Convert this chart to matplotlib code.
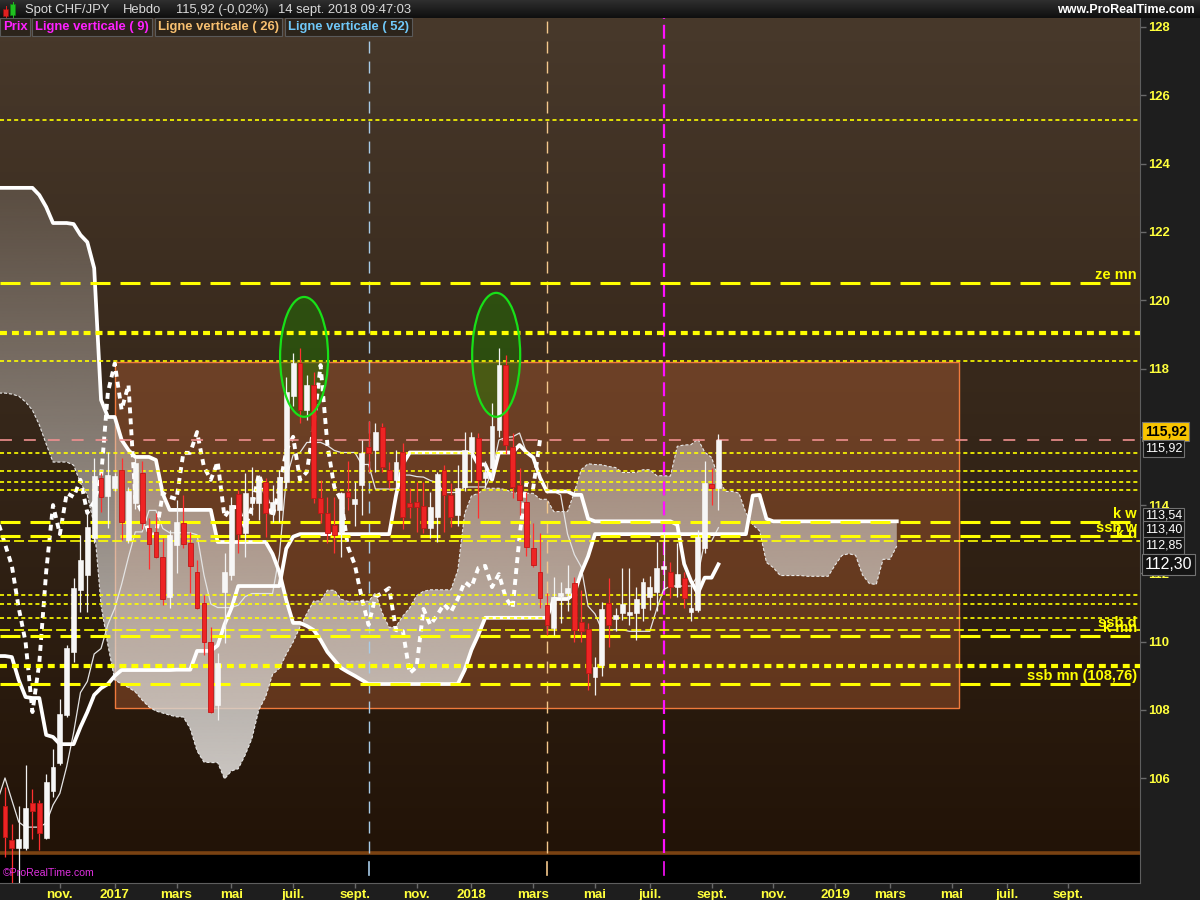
import numpy as np
import pandas as pd
import matplotlib
matplotlib.use("Agg")
import matplotlib.pyplot as plt
from matplotlib.patches import Rectangle, Ellipse, Polygon
import matplotlib.transforms as mtrans
from matplotlib.colors import to_rgb

plt.rcParams['lines.scale_dashes'] = False
plt.rcParams['font.family'] = ['Liberation Sans', 'DejaVu Sans']

# ------------------------------------------------------------------ data
first_week = "2016-09-12"   # Monday of the first weekly candle

opens = [105.19, 104.19, 103.96, 103.96, 105.28, 105.28, 104.25, 105.63, 106.45, 107.85,
         109.70, 111.51, 111.95, 113.04, 114.79, 114.27, 114.50, 115.03, 112.98, 114.06,
         114.94, 113.33, 113.21, 112.48, 111.31, 112.83, 113.48, 112.89, 112.04, 111.13,
         109.99, 108.15, 111.45, 111.95, 114.33, 113.18, 114.06, 114.06, 114.68, 113.86,
         113.86, 114.68, 117.20, 118.16, 116.79, 117.52, 114.21, 113.77, 113.42, 113.21,
         114.38, 114.03, 114.59, 115.71, 115.60, 116.29, 115.03, 114.74, 115.56, 114.06,
         114.09, 113.97, 113.33, 113.65, 115.03, 114.30, 113.71, 114.53, 115.56, 115.97,
         114.79, 115.09, 116.20, 118.10, 115.70, 114.59, 114.09, 112.74, 112.04, 111.07,
         110.40, 111.34, 111.43, 111.72, 110.58, 110.37, 108.97, 109.32, 111.13, 110.66,
         110.84, 110.78, 110.84, 110.99, 111.31, 111.45, 112.13, 112.04, 111.60, 111.87,
         110.87, 110.93, 112.74, 114.62, 114.50]
highs = [105.75, 104.66, 105.19, 106.39, 105.69, 105.37, 106.13, 106.86, 108.32, 109.90,
         111.87, 113.12, 113.77, 115.38, 114.94, 115.56, 114.95, 115.38, 114.53, 115.38,
         115.30, 113.62, 113.77, 113.04, 113.27, 114.15, 114.30, 113.21, 112.39, 111.37,
         110.43, 109.67, 112.60, 114.24, 114.44, 114.94, 115.12, 114.88, 114.79, 114.60,
         115.03, 117.75, 118.45, 118.60, 117.81, 117.90, 114.74, 114.24, 114.24, 114.38,
         115.30, 114.68, 115.91, 116.46, 116.40, 116.40, 115.27, 115.60, 115.82, 114.50,
         114.68, 114.68, 114.38, 114.97, 115.18, 114.65, 115.18, 116.14, 116.14, 116.11,
         115.30, 117.00, 118.60, 118.40, 116.11, 115.10, 114.38, 113.48, 113.18, 111.43,
         111.90, 111.75, 112.25, 111.90, 111.52, 110.55, 109.55, 111.16, 111.87, 111.00,
         112.16, 112.16, 111.60, 111.87, 111.93, 112.92, 113.21, 112.33, 112.89, 112.04,
         111.66, 113.27, 115.30, 115.09, 116.08]
lows = [103.70, 102.80, 102.80, 103.90, 104.22, 103.90, 104.22, 105.45, 106.40, 107.80,
        109.40, 110.87, 110.87, 112.90, 113.80, 113.33, 114.40, 112.98, 112.90, 113.90,
        113.30, 112.13, 112.45, 111.07, 111.00, 112.00, 112.74, 111.43, 110.96, 109.61,
        107.91, 107.70, 109.96, 111.80, 112.60, 112.48, 113.70, 113.56, 113.07, 113.50,
        113.50, 114.50, 116.90, 116.40, 116.50, 114.06, 113.48, 112.89, 112.60, 112.48,
        113.86, 113.40, 113.70, 114.97, 114.97, 114.97, 114.50, 114.50, 113.30, 113.62,
        113.21, 113.18, 113.04, 112.92, 113.21, 113.36, 113.40, 114.40, 114.68, 113.62,
        114.50, 114.80, 116.00, 115.50, 114.20, 113.70, 112.50, 112.19, 111.00, 110.20,
        110.20, 110.55, 110.90, 110.00, 110.00, 108.60, 108.45, 109.00, 109.84, 110.30,
        110.63, 110.50, 110.05, 110.60, 110.93, 110.90, 111.50, 111.28, 111.30, 110.99,
        110.60, 110.87, 112.60, 114.00, 113.86]
closes = [104.28, 103.96, 104.22, 105.13, 105.04, 104.40, 105.89, 106.33, 107.88, 109.82,
          111.57, 112.39, 113.36, 114.85, 114.24, 114.88, 114.85, 113.50, 114.40, 115.23,
          113.48, 112.86, 112.48, 111.25, 113.12, 113.50, 112.86, 112.22, 110.99, 109.99,
          107.94, 109.38, 112.04, 114.00, 113.15, 114.35, 114.24, 114.74, 113.77, 114.10,
          114.82, 117.30, 118.15, 116.79, 117.52, 114.20, 113.77, 113.18, 113.12, 114.35,
          114.24, 114.18, 115.53, 115.53, 116.14, 115.12, 114.74, 115.27, 113.65, 113.94,
          113.94, 113.33, 113.94, 114.91, 114.30, 113.65, 114.50, 115.60, 116.00, 114.74,
          114.97, 116.32, 118.10, 115.76, 114.53, 114.15, 112.77, 112.25, 111.28, 110.49,
          111.31, 111.43, 111.57, 110.34, 110.31, 109.08, 109.26, 110.96, 110.49, 110.78,
          111.10, 110.87, 111.25, 111.75, 111.60, 112.16, 112.22, 111.60, 111.98, 111.28,
          110.99, 113.07, 114.65, 114.50, 115.92]

# Ichimoku values that depend on weeks before the first visible candle.
# Each list starts one week before the first candle (the chart's left edge).
tenkan_early = [105.40, 106.01, 105.36, 104.72, 104.57, 104.57, 104.57, 104.69, 105.22]
kijun_early = [109.58, 109.58, 109.55, 108.88, 108.38, 108.35, 108.35, 107.27, 107.21, 107.00,
               107.00, 107.00, 107.50, 107.94, 108.44, 108.64, 108.76, 109.00, 109.17, 109.17,
               109.17, 109.17, 109.17, 109.17, 109.17, 109.17]
ssa_early = [117.28, 117.28, 117.25, 117.19, 117.02, 116.78, 116.35, 115.79, 115.26, 115.26,
             115.26, 115.17, 114.65, 114.30, 113.42, 111.07, 109.90, 108.88, 108.76, 108.66,
             108.53, 108.29, 108.09, 107.97, 107.91, 107.85, 107.80]
ssb_early = [123.29, 123.29, 123.29, 123.29, 123.29, 123.29, 123.08, 122.73, 122.26, 122.26,
             122.26, 122.23, 121.91, 121.70, 120.94, 117.08, 116.58, 116.58, 115.91, 115.61,
             115.41, 115.41, 115.41, 115.32, 114.33, 113.86, 113.86, 113.86, 113.86, 113.86,
             113.86, 113.86, 112.92, 112.92, 112.92, 112.92, 112.92, 112.92, 112.92, 112.92,
             112.57, 112.04, 111.22, 110.55, 110.55, 110.46, 110.34, 110.05, 109.70, 109.46,
             109.23, 109.11, 109.00, 108.88, 108.76, 108.76, 108.76, 108.76, 108.76, 108.76,
             108.76, 108.76, 108.76, 108.76, 108.76, 108.76, 108.76, 108.76, 109.17, 109.76,
             110.20, 110.70, 110.70, 110.70, 110.70, 110.70, 110.70, 110.70]
tenkan_period, kijun_period, ssb_period, shift = 9, 26, 52, 26

zone_weeks = [16.1, 139.0]
zone_prices = [108.07, 118.18]

hline_values = [125.28, 120.50, 119.04, 118.23, 115.52, 115.01, 114.68, 114.44, 113.50,
                113.10, 112.94, 111.36, 111.10, 110.69, 110.33, 110.17, 109.29, 108.76]
hline_kinds = ['thin', 'long', 'short', 'thin', 'thin', 'thin', 'thin', 'thin', 'long',
               'long', 'thinlong', 'thin', 'thin', 'thin', 'thinlong', 'long', 'short', 'long']
hline_labels = ['', 'ze mn', '', '', '', '', '', '', 'k w',
                'ssb w', 'k d', '', '', '', 'ssb d', 'k mn', '', 'ssb mn (108,76)']

vline_periods = [52, 26, 9]
legend_items = ['Prix', 'Ligne verticale ( 9)', 'Ligne verticale ( 26)', 'Ligne verticale ( 52)']

ellipse_weeks = [43.6, 71.6]
ellipse_prices = [118.34, 118.40]
ellipse_heights = [3.51, 3.63]
ellipse_width = 7.0

price_tags = [115.92, 115.92, 113.54, 113.40, 112.85, 112.30]
yticks = list(range(106, 129, 2))
month_labels = {3: 'mars', 5: 'mai', 7: 'juil.', 9: 'sept.', 11: 'nov.'}

# ------------------------------------------------------------------ indicators
O = np.array(opens); H = np.array(highs); L = np.array(lows); C = np.array(closes)
n = len(C)
off = 1   # early lists begin at week -1


def midpoint(i, period):
    lo = max(0, i - period + 1)
    return (H[lo:i + 1].max() + L[lo:i + 1].min()) / 2


xl = np.arange(-1, n)
tenkan = np.array([tenkan_early[i + off] if i + off < len(tenkan_early) else midpoint(i, tenkan_period)
                   for i in xl])
kijun = np.array([kijun_early[i + off] if i + off < len(kijun_early) else midpoint(i, kijun_period)
                  for i in xl])
xc = np.arange(-1, n + shift)
ssa = np.array([ssa_early[j + off] if j + off < len(ssa_early)
                else (tenkan[j - shift + off] + kijun[j - shift + off]) / 2 for j in xc])
ssb = np.array([ssb_early[j + off] if j + off < len(ssb_early) else midpoint(j - shift, ssb_period)
                for j in xc])
x = np.arange(n)

# ------------------------------------------------------------------ figure
W, Hpx = 1200, 900
fig = plt.figure(figsize=(12, 9), dpi=100, facecolor='#1e1e1e')
ax = fig.add_axes([0, (Hpx - 883) / Hpx, 1140 / W, (883 - 18) / Hpx])
pxv = 34.15    # pixels per price unit
pxw = 6.86     # pixels per week
ytop = 128 + (27 - 18) / pxv
ybot = 128 - (883 - 27) / pxv
xmin = -5 / pxw
xmax = (1140 - 5) / pxw
strip_level = 128 - (853 - 27) / pxv

# background gradient
c_top = np.array(to_rgb('#48392b')); c_bot = np.array(to_rgb('#221307'))
rows = np.linspace(ytop, ybot, 600)
frac = np.clip((ytop - rows) / (ytop - strip_level), 0, 1)
bg = c_top[None, :] * (1 - frac[:, None]) + c_bot[None, :] * frac[:, None]
bg[rows < strip_level] = 0.0
ax.imshow(bg[:, None, :].repeat(2, axis=1), extent=[xmin, xmax, ybot, ytop], aspect='auto',
          zorder=0, interpolation='bilinear')
ax.axhline(strip_level, color='#7a4212', lw=2.6, zorder=0.6)

# zone rectangle
ax.add_patch(Rectangle((zone_weeks[0], zone_prices[0]), zone_weeks[1] - zone_weeks[0],
                       zone_prices[1] - zone_prices[0], facecolor='#e97940', alpha=0.30,
                       edgecolor='none', zorder=1))
ax.add_patch(Rectangle((zone_weeks[0], zone_prices[0]), zone_weeks[1] - zone_weeks[0],
                       zone_prices[1] - zone_prices[0], facecolor='none',
                       edgecolor='#f07a3c', lw=1.0, zorder=1.1))

# cloud with vertical alpha gradient
verts = list(zip(xc, ssa)) + list(zip(xc[::-1], ssb[::-1]))
cloud_poly = Polygon(verts, closed=True, facecolor='none', edgecolor='none')
ax.add_patch(cloud_poly)
alpha = np.clip(0.18 + 0.75 * (123.23 - rows) / 17.28, 0.12, 0.93)
img = np.zeros((len(rows), 2, 4))
img[..., 0] = 216 / 255; img[..., 1] = 212 / 255; img[..., 2] = 208 / 255
img[..., 3] = alpha[:, None]
im = ax.imshow(img, extent=[xmin, xmax, ybot, ytop], aspect='auto', zorder=1.5,
               interpolation='bilinear')
im.set_clip_path(cloud_poly)
ax.plot(xc, ssa, color='#e8e8e8', lw=0.8, ls=(0, (2.2, 1.4)), zorder=2)

# ellipse fills
for ex, ey, eh in zip(ellipse_weeks, ellipse_prices, ellipse_heights):
    ax.add_patch(Ellipse((ex, ey), ellipse_width, eh, facecolor='#1f7a00', alpha=0.45,
                         edgecolor='none', zorder=2.2))

# vertical lines
last = n - 1
vstyles = {52: ('#a8cce8', 1.0, (0, (8.6, 5.8))),
           26: ('#f4c88c', 1.0, (0, (8.6, 5.8))),
           9: ('#ff10ff', 1.6, (0, (10, 4.3)))}
ystrip0 = (883 - 853) / 865
for p in vline_periods:
    xv = last - (p - 1)
    col, lw, ls = vstyles[p]
    ax.axvline(xv, ymin=ystrip0, ymax=1, color=col, lw=lw, ls=ls, zorder=3)
    ax.axvline(xv, ymin=(883 - 875) / 865, ymax=(883 - 862) / 865, color=col, lw=1.2, zorder=3)

# ichimoku lines
ax.plot(xl, tenkan, color='#e4e4e4', lw=0.9, zorder=3.4, solid_joinstyle='round')
ax.plot(xl, kijun, color='white', lw=2.7, zorder=3.5, solid_joinstyle='round')
ax.plot(xc, ssb, color='white', lw=2.7, zorder=3.5, solid_joinstyle='round')
xch = np.arange(-1, n - shift)
ax.plot(xch, C[shift - 1:], color='white', lw=2.8, ls=(0, (4.3, 3.6)),
        dash_capstyle='butt', zorder=3.6)

# horizontal lines
kinds = {'thin': (1.2, (0, (2.9, 2.2))),
         'thinlong': (1.2, (0, (7.2, 2.9))),
         'long': (2.2, (0, (14.4, 7.2))),
         'short': (3.0, (0, (5.0, 3.6)))}
lab_tr = mtrans.blended_transform_factory(ax.transAxes, ax.transData)
for v, k, lab in zip(hline_values, hline_kinds, hline_labels):
    lw, ls = kinds[k]
    ax.axhline(v, color='#ffff00', lw=lw, ls=ls, zorder=4)
    if lab:
        ax.text(1 - 3 / 1140, v + 0.02, lab, transform=lab_tr, ha='right', va='bottom',
                color='#ffff00', fontsize=10.5, fontweight='bold', zorder=6)
ax.axhline(C[-1], color='#f09090', lw=1.2, ls=(0, (8.6, 8.6)), zorder=4)

# candles
up = C >= O
bb = np.minimum(O, C)
bh = np.maximum(np.abs(C - O), 0.07)
ax.vlines(x[up], L[up], H[up], color='#f2f2f2', lw=0.9, zorder=5)
ax.vlines(x[~up], L[~up], H[~up], color='#ff3030', lw=0.9, zorder=5)
ax.bar(x[up], bh[up], bottom=bb[up], width=0.7, color='#f6f6f6', edgecolor='#ffffff',
       lw=0.4, zorder=5.1)
ax.bar(x[~up], bh[~up], bottom=bb[~up], width=0.7, color='#ee2424', edgecolor='#c01616',
       lw=0.6, zorder=5.1)

# ellipse outlines
for ex, ey, eh in zip(ellipse_weeks, ellipse_prices, ellipse_heights):
    ax.add_patch(Ellipse((ex, ey), ellipse_width, eh, facecolor='none', edgecolor='#18e018',
                         lw=1.6, zorder=5.5))

ax.set_xlim(xmin, xmax)
ax.set_ylim(ybot, ytop)

# axes styling
for s in ['left', 'top']:
    ax.spines[s].set_visible(False)
ax.spines['right'].set_color('#5e5e5e')
ax.spines['bottom'].set_color('#5e5e5e')
ax.yaxis.tick_right()
ax.set_yticks(yticks)
# the 116 label sits under the current-price tag on the chart
ax.set_yticklabels(['' if t == 116 else str(t) for t in yticks])
ax.tick_params(axis='y', colors='#6a6a6a', labelcolor='#ffff3c', length=4, width=1, pad=2,
               labelsize=9.4)
for t in ax.get_yticklabels():
    t.set_fontweight('bold')

dates = pd.date_range(first_week, periods=170, freq='W-MON')
tick_pos, tick_lab = [], []
for i in range(1, len(dates)):
    if dates[i].month != dates[i - 1].month and dates[i].month % 2 == 1 and i < 160:
        tick_pos.append(i)
        tick_lab.append(str(dates[i].year) if dates[i].month == 1 else month_labels[dates[i].month])
ax.set_xticks(tick_pos)
ax.set_xticklabels(tick_lab)
ax.tick_params(axis='x', colors='#6a6a6a', labelcolor='#ffff3c', length=3.5, width=1, pad=1,
               labelsize=9.6)
for t in ax.get_xticklabels():
    t.set_fontweight('bold')

# price tags on the right axis
tag_tr = mtrans.blended_transform_factory(ax.transAxes, ax.transData)
tag_style = [('#f8c400', 'black', 10, 'bold', 5.8),
             ('#141414', 'white', 9, 'normal', -6.5),
             ('#141414', 'white', 9, 'normal', 3.5),
             ('#141414', 'white', 9, 'normal', -2.9),
             ('#141414', 'white', 9, 'normal', -0.8),
             ('#141414', 'white', 11.5, 'normal', -1.0)]
for v, (fc, tc, fs, fw, dy) in zip(price_tags, tag_style):
    ax.annotate(f"{v:.2f}".replace('.', ','), xy=(1, v), xycoords=tag_tr,
                xytext=(3.5, dy), textcoords='offset points', ha='left', va='center',
                color=tc, fontsize=fs, fontweight=fw, annotation_clip=False, zorder=20,
                bbox=dict(boxstyle='square,pad=0.18', facecolor=fc, edgecolor='#727272', lw=0.8))

ax.text(3 / 1140, (883 - 873) / 865, '©ProRealTime.com', transform=ax.transAxes, ha='left',
        va='center', color='#e030e0', fontsize=7.6, zorder=8)

# header bar
hax = fig.add_axes([0, 1 - 18 / Hpx, 1, 18 / Hpx])
hax.set_axis_off()
hg = np.linspace(0, 1, 18)[:, None]
hcol = np.array(to_rgb('#2e2e2e'))[None, None, :] * (1 - hg[..., None]) + \
    np.array(to_rgb('#0f0f0f'))[None, None, :] * hg[..., None]
hax.imshow(hcol.repeat(2, axis=1), extent=[0, 1, 0, 1], aspect='auto')
hax.set_xlim(0, 1); hax.set_ylim(0, 1)
# candle icon
hax.add_patch(Rectangle((3 / W, 1 - 16 / 18), 5 / W, 7 / 18, facecolor='#e02020', edgecolor='#901010', lw=0.5))
hax.add_patch(Rectangle((10 / W, 1 - 15 / 18), 5 / W, 11 / 18, facecolor='#20c020', edgecolor='#108010', lw=0.5))
hax.plot([5.5 / W, 5.5 / W], [1 - 17.5 / 18, 1 - 6 / 18], color='#e02020', lw=0.7)
hax.plot([12.5 / W, 12.5 / W], [1 - 17 / 18, 1 - 1.5 / 18], color='#20c020', lw=0.7)
hdr = [(25, 'Spot CHF/JPY'), (123, 'Hebdo'),
       (176, f"{C[-1]:.2f}".replace('.', ',') + ' (-0,02%)'), (278, '14 sept. 2018 09:47:03')]
for px, s in hdr:
    hax.text(px / W, 0.45, s, ha='left', va='center', color='#dadada', fontsize=9.4)
hax.text(1195 / W, 0.45, 'www.ProRealTime.com', ha='right', va='center', color='white',
         fontsize=9, fontweight='bold')

# legend row
leg_x = [3, 35, 158, 288]
leg_col = ['#ff20ff', '#ff20ff', '#f8c070', '#70c8f8']
for px, s, c in zip(leg_x, legend_items, leg_col):
    fig.text(px / W, 1 - 27 / Hpx, s, ha='left', va='center', color=c, fontsize=9.4,
             fontweight='bold',
             bbox=dict(boxstyle='square,pad=0.22', facecolor='#2c241b', edgecolor='#5a5a5a', lw=0.8))

fig.savefig('out.png', dpi=100, facecolor=fig.get_facecolor())
